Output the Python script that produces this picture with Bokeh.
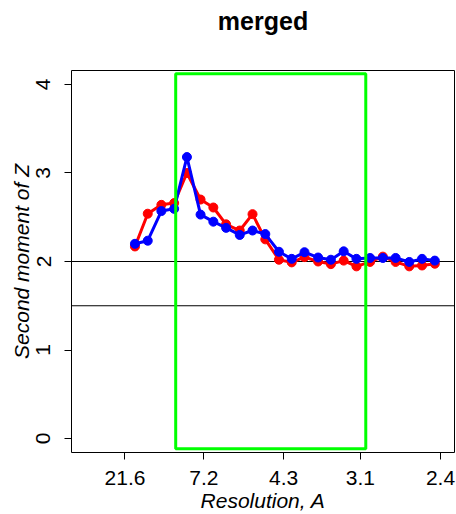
from bokeh.plotting import figure
from bokeh.models import FixedTicker, Span, Range1d, Title
from bokeh.embed import file_html
from bokeh.resources import INLINE

# inverse resolution (1/A) of each bin
inv_res = [0.058, 0.073, 0.089, 0.104, 0.119, 0.135, 0.150, 0.165, 0.181, 0.196,
           0.211, 0.227, 0.242, 0.257, 0.273, 0.288, 0.303, 0.318, 0.334, 0.349,
           0.364, 0.380, 0.395, 0.410]
red_vals = [2.17, 2.54, 2.64, 2.66, 3.00, 2.70, 2.61, 2.42, 2.35, 2.535,
            2.25, 2.02, 1.99, 2.05, 2.00, 1.97, 2.01, 1.945, 1.995, 2.055,
            1.995, 1.945, 1.955, 1.975]
blue_vals = [2.20, 2.235, 2.57, 2.595, 3.18, 2.53, 2.45, 2.38, 2.30, 2.35,
             2.31, 2.11, 2.03, 2.105, 2.045, 2.02, 2.115, 2.03, 2.04, 2.04,
             2.04, 1.995, 2.03, 2.01]
tick_labels = ["21.6", "7.2", "4.3", "3.1", "2.4"]
ref_lines = [2.0, 1.5]
box_res = [9.45, 3.04]      # resolution limits of the green box
box_y = [-0.115, 4.12]

FONT = "Liberation Sans"

p = figure(width=456, height=514, output_backend="svg", toolbar_location=None, title=None,
           x_range=Range1d(-0.0165, 0.4331), y_range=Range1d(-0.158, 4.158),
           min_border_left=71, min_border_right=2, min_border_top=70, min_border_bottom=61)
p.grid.visible = False
p.outline_line_color = "black"
p.outline_line_width = 1
p.background_fill_color = "white"
p.border_fill_color = "white"

# spacer between the frame and the title
p.add_layout(Title(text=" ", text_font_size="1px", standoff=31), "above")
p.add_layout(Title(text="merged", align="center", vertical_align="top", standoff=0,
                   text_font=FONT, text_font_size="25px", text_font_style="bold",
                   text_color="black"), "above")

tick_pos = [1.0 / float(t) for t in tick_labels]
p.xaxis.ticker = FixedTicker(ticks=tick_pos)
p.xaxis.major_label_overrides = {tp: t for tp, t in zip(tick_pos, tick_labels)}
p.yaxis.ticker = FixedTicker(ticks=[0, 1, 2, 3, 4])
for ax in (p.xaxis, p.yaxis):
    ax.axis_line_color = None
    ax.major_tick_out = 7
    ax.major_tick_in = 0
    ax.minor_tick_out = 0
    ax.minor_tick_in = 0
    ax.major_tick_line_color = "black"
    ax.major_label_text_font = FONT
    ax.major_label_text_font_size = "21px"
    ax.major_label_text_color = "black"
    ax.axis_label_text_font = FONT
    ax.axis_label_text_font_size = "21px"
    ax.axis_label_text_font_style = "italic"
    ax.axis_label_text_color = "black"
p.xaxis.major_label_standoff = 11
p.yaxis.major_label_standoff = 14
p.yaxis.major_label_orientation = "vertical"
p.yaxis.axis_label = "Second moment of Z"
p.xaxis.axis_label = "Resolution, A"
p.yaxis.axis_label_standoff = 1
p.xaxis.axis_label_standoff = 1

for v in ref_lines:
    p.add_layout(Span(location=v, dimension="width", line_color="black", line_width=1, level="underlay"))

p.line(inv_res, red_vals, line_color="#FF0000", line_width=3)
p.scatter(inv_res, red_vals, size=9, fill_color="#FF0000", line_color="#FF0000")
p.line(inv_res, blue_vals, line_color="#0000FF", line_width=3)
p.scatter(inv_res, blue_vals, size=9, fill_color="#0000FF", line_color="#0000FF")

p.quad(left=[1.0 / box_res[0]], right=[1.0 / box_res[1]], bottom=[box_y[0]], top=[box_y[1]],
       fill_color=None, line_color="#00FF00", line_width=3)

open("out.html", "w").write(file_html(p, INLINE))
